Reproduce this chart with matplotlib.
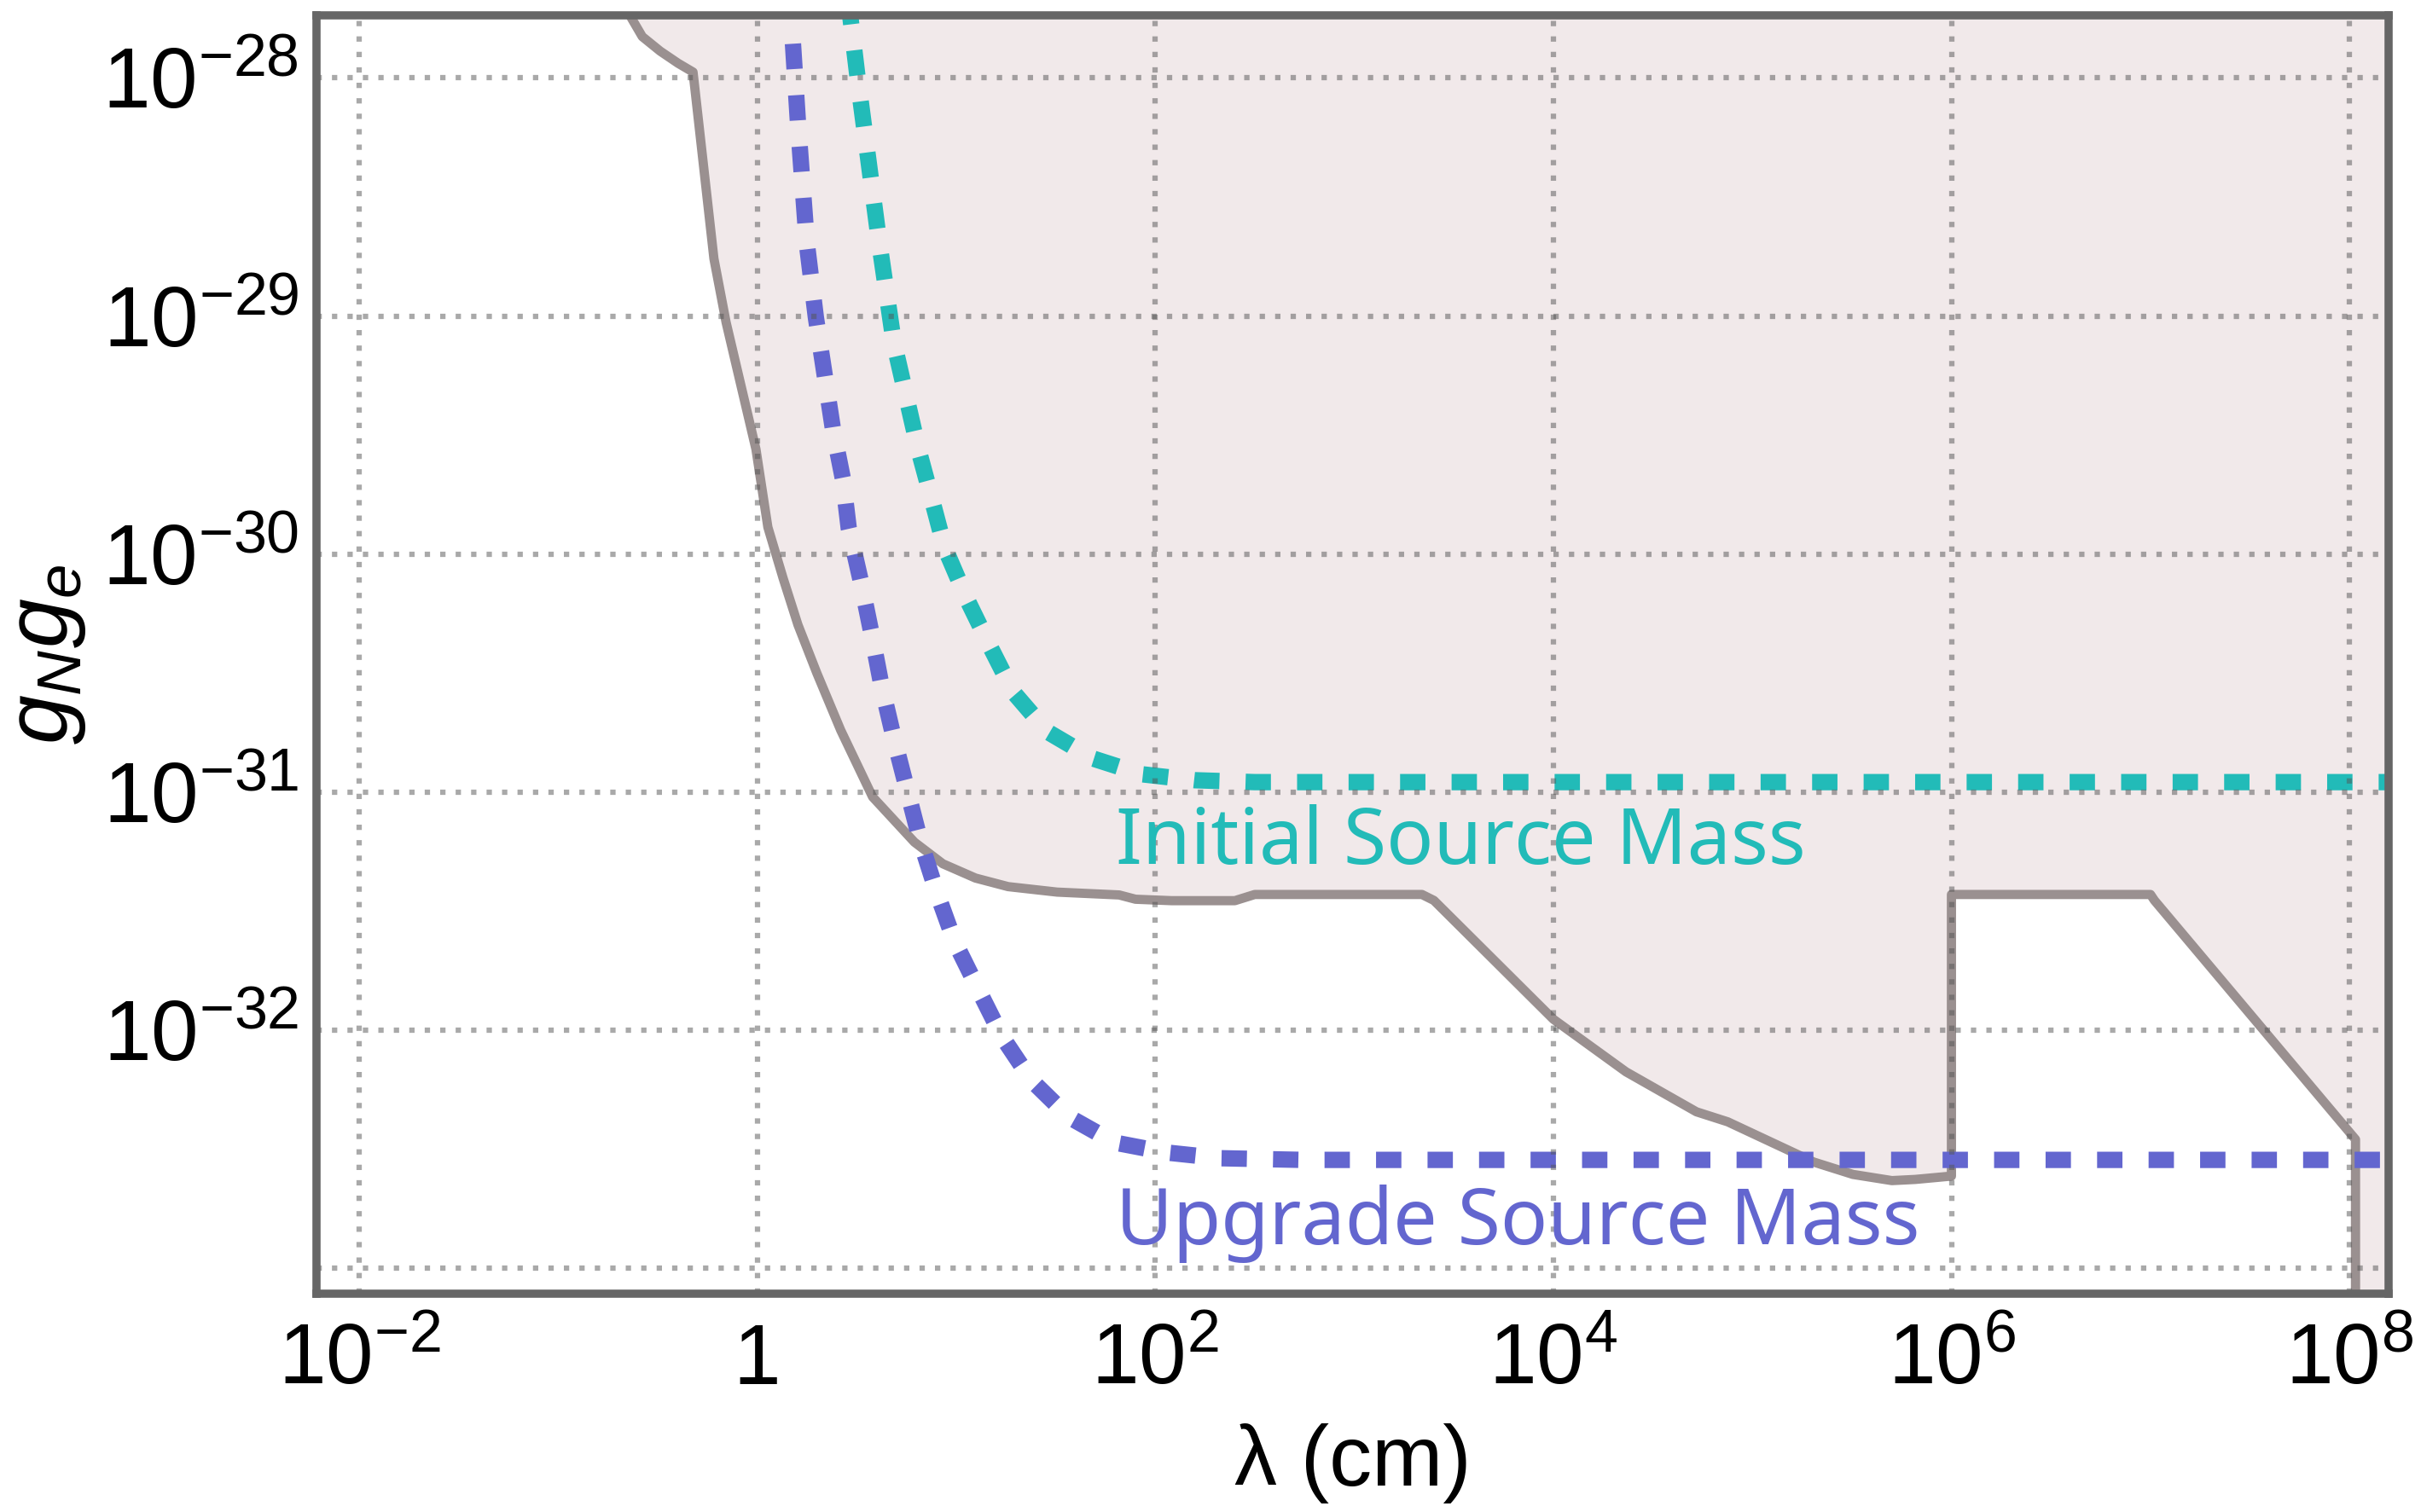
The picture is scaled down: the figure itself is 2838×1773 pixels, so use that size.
import numpy as np
import matplotlib
matplotlib.use("Agg")
import matplotlib.pyplot as plt

plt.rcParams["font.family"] = ["Liberation Sans", "DejaVu Sans"]
plt.rcParams["mathtext.fontset"] = "custom"
plt.rcParams["mathtext.rm"] = "Liberation Sans"
plt.rcParams["mathtext.it"] = "Liberation Sans:italic"

# existing exclusion bound (log10 lambda [cm], log10 gN*ge)
bound_log_lam = [-0.665, -0.577, -0.487, -0.397, -0.322, -0.217, -0.156, -0.006,
                 0.054, 0.13, 0.205, 0.30, 0.42, 0.58, 0.79, 0.933, 1.097, 1.261,
                 1.507, 1.819, 1.901, 2.082, 2.40, 2.50, 3.34, 3.40, 4.0, 4.365,
                 4.719, 4.876, 5.308, 5.505, 5.701, 5.819, 6.0, 6.0, 7.0, 7.02,
                 8.03, 8.03, 8.4]
bound_log_g = [-27.70, -27.826, -27.887, -27.938, -27.975, -28.759, -29.026, -29.559,
               -29.887, -30.10, -30.297, -30.50, -30.74, -31.02, -31.21, -31.301,
               -31.361, -31.397, -31.42, -31.432, -31.45, -31.456, -31.456, -31.43,
               -31.43, -31.455, -31.954, -32.175, -32.343, -32.385, -32.554,
               -32.606, -32.632, -32.627, -32.613, -31.43, -31.43, -31.455,
               -32.459, -34.0, -34.0]

# projected sensitivity, initial source mass
initial_log_lam = [0.455, 0.505, 0.611, 0.686, 0.81, 0.875, 0.941, 1.048, 1.163,
                   1.286, 1.458, 1.688, 1.934, 2.2, 2.5, 8.4]
initial_log_g = [-27.65, -28.0, -28.677, -29.108, -29.56, -29.761, -29.97, -30.179,
                 -30.376, -30.579, -30.746, -30.859, -30.925, -30.95, -30.958, -30.958]

# projected sensitivity, upgraded source mass
upgrade_log_lam = [0.18, 0.205, 0.25, 0.295, 0.38, 0.43, 0.46, 0.52, 0.575, 0.625,
                   0.686, 0.752, 0.818, 0.90, 0.99, 1.11, 1.228, 1.376, 1.565,
                   1.795, 2.057, 2.328, 2.74, 8.4]
upgrade_log_g = [-27.856, -28.185, -28.697, -29.005, -29.47, -29.68, -29.89, -30.11,
                 -30.335, -30.553, -30.77, -30.985, -31.2, -31.415, -31.624, -31.827,
                 -32.024, -32.209, -32.364, -32.472, -32.514, -32.538, -32.545, -32.545]

xtick_vals = [1e-2, 1, 1e2, 1e4, 1e6, 1e8]
xtick_labels = ["$10^{-2}$", "1", "$10^{2}$", "$10^{4}$", "$10^{6}$", "$10^{8}$"]
ytick_vals = [1e-33, 1e-32, 1e-31, 1e-30, 1e-29, 1e-28]
ytick_labels = ["", "$10^{-32}$", "$10^{-31}$", "$10^{-30}$", "$10^{-29}$", "$10^{-28}$"]

c_bound = "#9a9090"
c_fill = "#f1e9ea"
c_initial = "#22bbb8"
c_upgrade = "#6366cf"

bx = 10.0 ** np.array(bound_log_lam)
by = 10.0 ** np.array(bound_log_g)
ix = 10.0 ** np.array(initial_log_lam)
iy = 10.0 ** np.array(initial_log_g)
ux = 10.0 ** np.array(upgrade_log_lam)
uy = 10.0 ** np.array(upgrade_log_g)

fig = plt.figure(figsize=(9.46, 5.91), dpi=300)
ax = fig.add_axes([0.1307, 0.1444, 0.8559, 0.8454])
ax.set_xscale("log")
ax.set_yscale("log")

ax.fill_between(bx, by, 1e-26, color=c_fill, lw=0, zorder=0.5)
ax.plot(bx, by, color=c_bound, lw=2.6, zorder=2, solid_joinstyle="round")
ax.plot(ix, iy, color=c_initial, lw=4.6, dashes=(1.55, 1.6),
        dash_capstyle="butt", zorder=2)
ax.plot(ux, uy, color=c_upgrade, lw=4.6, dashes=(1.55, 1.6),
        dash_capstyle="butt", zorder=2)

ax.text(10 ** 1.80, 10 ** -31.30, "Initial Source Mass", color=c_initial,
        fontsize=22, family="Noto Sans", va="baseline", ha="left", zorder=3)
ax.text(10 ** 1.80, 10 ** -32.90, "Upgrade Source Mass", color=c_upgrade,
        fontsize=22, family="Noto Sans", va="baseline", ha="left", zorder=3)

ax.set_xlim(10 ** -2.214, 10 ** 8.196)
ax.set_ylim(10 ** -33.107, 10 ** -27.737)

ax.set_xticks(xtick_vals)
ax.set_xticklabels(xtick_labels)
ax.set_yticks(ytick_vals)
ax.set_yticklabels(ytick_labels)
ax.minorticks_off()
ax.tick_params(axis="both", which="both", length=0, labelsize=24)
ax.tick_params(axis="x", pad=8)
ax.tick_params(axis="y", pad=5)

ax.grid(True, which="major", color="#555555", alpha=0.5, lw=1.5,
        linestyle=(0, (1, 1.9)))
ax.set_axisbelow(False)
for gl in ax.get_xgridlines() + ax.get_ygridlines():
    gl.set_zorder(2.5)

for sp in ax.spines.values():
    sp.set_color("#666666")
    sp.set_linewidth(2.3)
    sp.set_zorder(4)

ax.set_xlabel("λ (cm)", fontsize=24, labelpad=6)
ax.set_ylabel("$g_Ng_e$", fontsize=25, labelpad=4)

fig.savefig("out.png", dpi=300)
